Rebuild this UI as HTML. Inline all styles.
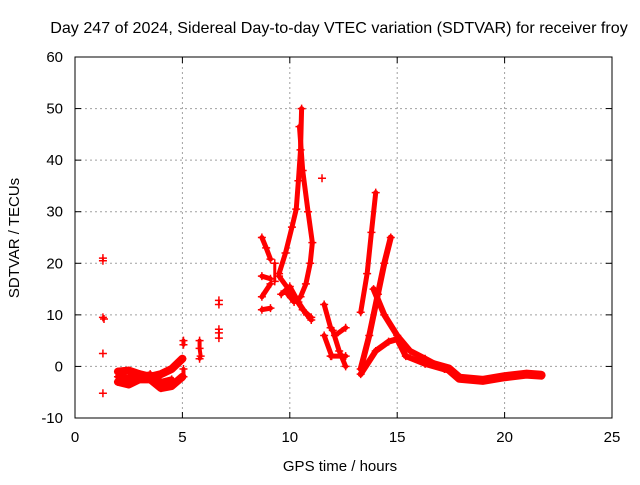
<!DOCTYPE html>
<html><head><meta charset="utf-8"><style>
body{margin:0;background:#fff;font-family:"Liberation Sans",sans-serif}
svg text{font-family:"Liberation Sans",sans-serif;font-size:15px;fill:#000}
</style></head><body>
<svg width="640" height="480" viewBox="0 0 640 480">
<rect width="640" height="480" fill="#fff"/>
<g id="grid"></g>
<g id="axes"></g>
<g id="marks"></g>
<text x="339" y="33" text-anchor="middle" style="font-size:16.1px">Day 247 of 2024, Sidereal Day-to-day VTEC variation (SDTVAR) for receiver froy</text>
<text x="340" y="471" text-anchor="middle">GPS time / hours</text>
<text x="0" y="0" text-anchor="middle" transform="translate(19,238) rotate(-90)">SDTVAR / TECUs</text>
</svg>
<script>
const xTicks=[0,5,10,15,20,25];
const yTicks=[-10,0,10,20,30,40,50,60];
// tracks: [hour, TECU] pairs with stroke width
const tracks=[
 {w:2,p:[[1.3,21],[1.3,20.5]]},
 {w:3,p:[[1.3,9.5],[1.35,9.2]]},
 {w:2,p:[[1.3,2.5]]},
 {w:2,p:[[1.3,-5.2]]},
 {w:8,p:[[2,-1],[2.5,-0.8],[3,-1.5],[3.5,-2],[4,-1.5],[4.5,-0.5],[5,1.5]]},
 {w:8,p:[[2,-3],[2.5,-3.5],[3,-2.5],[3.5,-2.5],[4,-4.2],[4.5,-3.8],[5,-2]]},
 {w:6,p:[[2,-2],[2.5,-2.2],[3,-2],[3.5,-1.5],[4,-3],[4.5,-2.5]]},
 {w:4,p:[[5.05,4.2],[5.05,5]]},
 {w:4,p:[[5.05,-0.5],[5.05,-2]]},
 {w:4,p:[[5.8,5],[5.8,3.5],[5.85,2],[5.8,1.5]]},
 {w:2,p:[[6.7,12.8],[6.7,12]]},
 {w:2,p:[[6.7,7.2],[6.7,6.5],[6.7,5.5]]},
 {w:5,p:[[8.7,25],[8.9,23],[9.1,20.8]]},
 {w:5,p:[[8.7,17.5],[9.1,17]]},
 {w:5,p:[[8.7,13.5],[9.1,16]]},
 {w:5,p:[[8.7,11],[9.1,11.3]]},
 {w:3,p:[[9.3,20],[9.3,16.5]]},
 {w:5,p:[[9.5,18],[9.8,22],[10.1,27],[10.3,30.5],[10.4,36],[10.5,42],[10.55,50]]},
 {w:5,p:[[10.45,46.5],[10.6,38],[10.85,30],[11.05,24],[10.95,20],[10.75,16],[10.5,13.5],[10.2,12.5],[9.9,14]]},
 {w:5,p:[[9.5,17.5],[10.2,13.5],[10.6,11],[11,9.5]]},
 {w:5,p:[[9.6,14],[10,15.5],[10.4,12.5],[10.8,10],[11,9]]},
 {w:2,p:[[11.5,36.5]]},
 {w:5,p:[[11.6,12],[11.9,7.5]]},
 {w:5,p:[[11.6,6],[11.95,2]]},
 {w:5,p:[[12,7],[12.3,3],[12.6,0]]},
 {w:5,p:[[12.1,6],[12.6,7.5]]},
 {w:5,p:[[11.9,2],[12.6,2]]},
 {w:5,p:[[13.3,10.5],[13.6,18],[13.8,26],[14,33.7]]},
 {w:6,p:[[13.3,-0.5],[13.7,6],[14.1,14],[14.4,20],[14.7,25]]},
 {w:6,p:[[13.9,15],[14.4,10],[15,6],[15.6,3],[16.3,1.5],[17.2,-0.5]]},
 {w:6,p:[[13.3,-1.5],[14,3],[14.6,4.8],[15,5.3],[15.4,2],[16.3,0.5]]},
 {w:9,p:[[16.3,0.8],[17.4,-0.5],[17.9,-2.3],[19,-2.7],[20,-2],[21,-1.5],[21.7,-1.7]]}
];
const X0=75,X1=612,Y0=418,Y1=57;
const xs=h=>X0+(h-0)/25*(X1-X0);
const ys=v=>Y0-(v+10)/70*(Y0-Y1);
const NS="http://www.w3.org/2000/svg";
function mk(t,a,parent){const e=document.createElementNS(NS,t);for(const k in a)e.setAttribute(k,a[k]);parent.appendChild(e);return e;}
const grid=document.getElementById('grid'),axes=document.getElementById('axes'),marks=document.getElementById('marks');
xTicks.forEach(t=>{
 if(t>0&&t<25){const l=mk('line',{x1:xs(t),x2:xs(t),y1:Y1,y2:Y0,stroke:'#a0a0a0','stroke-dasharray':'2,3'},grid);
 
 }
 const tx=mk('text',{x:xs(t),y:Y0+24,'text-anchor':'middle'},axes);tx.textContent=t;
 
 
 mk('line',{x1:xs(t),x2:xs(t),y1:Y0,y2:Y0-6,stroke:'#000'},axes);
 mk('line',{x1:xs(t),x2:xs(t),y1:Y1,y2:Y1+6,stroke:'#000'},axes);
});
yTicks.forEach(t=>{
 if(t>-10&&t<60){const l=mk('line',{x1:X0,x2:X1,y1:ys(t),y2:ys(t),stroke:'#a0a0a0','stroke-dasharray':'2,3'},grid);
 
 }
 const tx=mk('text',{x:X0-12,y:ys(t)+5,'text-anchor':'end'},axes);tx.textContent=t;
 
 
 mk('line',{x1:X0,x2:X0+6,y1:ys(t),y2:ys(t),stroke:'#000'},axes);
 mk('line',{x1:X1,x2:X1-6,y1:ys(t),y2:ys(t),stroke:'#000'},axes);
});
const fr=mk('rect',{x:X0,y:Y1,width:X1-X0,height:Y0-Y1,fill:'none',stroke:'#000'},axes);


tracks.forEach(tr=>{
 const g=mk('g',{},marks);
 
 
 if(tr.p.length>1)mk('polyline',{points:tr.p.map(q=>xs(q[0])+','+ys(q[1])).join(' '),fill:'none',stroke:'#f00','stroke-width':tr.w,'stroke-linejoin':'round','stroke-linecap':'round'},g);
 tr.p.forEach(q=>{const x=xs(q[0]),y=ys(q[1]);
  mk('path',{d:`M${x-4},${y}H${x+4}M${x},${y-4}V${y+4}`,stroke:'#f00','stroke-width':1.5},g);});
});
</script>
</body></html>
